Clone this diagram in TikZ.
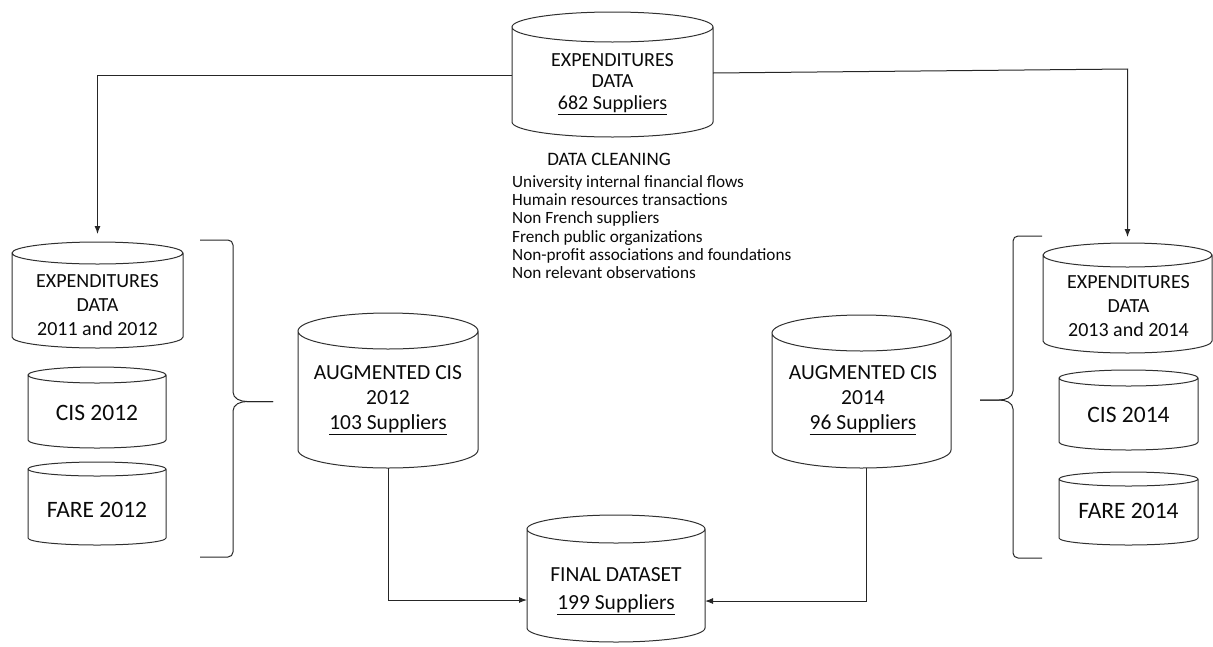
\documentclass[tikz,border=0pt]{standalone}
\usepackage{fontspec}
\setmainfont{Carlito}
\usetikzlibrary{arrows.meta}
\definecolor{outl}{HTML}{303030}
\definecolor{txtc}{HTML}{0A0A0A}
\newcommand\cylof[3]{%
  \draw[cylline] ([yshift=-#3pt]#1.north west) -- ([yshift=#3pt]#1.south west)
    arc[start angle=180,end angle=360,x radius=#2pt,y radius=#3pt]
    -- ([yshift=-#3pt]#1.north east)
    arc[start angle=0,end angle=180,x radius=#2pt,y radius=#3pt]
    arc[start angle=180,end angle=360,x radius=#2pt,y radius=#3pt];
}
\begin{document}
\begin{tikzpicture}[x=1pt,y=-1pt,
  box/.style={draw=none,inner sep=0pt,outer sep=0pt},
  cylline/.style={draw=outl,line width=1pt},
  conn/.style={draw=black!85,line width=1pt,-{Latex[length=8pt,width=6pt]}},
  bracel/.style={draw=black!85,line width=1pt},
  lbl/.style={text=txtc,align=center,inner sep=0pt},
  fa/.style={font=\fontsize{20}{21.7}\selectfont},
  fb/.style={font=\fontsize{20}{24}\selectfont},
  fc/.style={font=\fontsize{23.5}{26}\selectfont},
  fd/.style={font=\fontsize{21.5}{25}\selectfont},
  fe/.style={font=\fontsize{21.5}{28}\selectfont},
  fl/.style={font=\fontsize{17.2}{18.3}\selectfont},
  fk/.style={font=\fontsize{19}{20}\selectfont}]
\useasboundingbox (0,0) rectangle (1213,646);

% cylinder boxes
\node[box,minimum width=201pt,minimum height=125pt] (top) at (612.5,74.5) {};
\node[box,minimum width=171pt,minimum height=106pt] (e12) at (97.5,295) {};
\node[box,minimum width=138pt,minimum height=81pt] (c12) at (97,407.5) {};
\node[box,minimum width=138pt,minimum height=83pt] (f12) at (97,503.5) {};
\node[box,minimum width=180pt,minimum height=155pt] (a12) at (388,390.5) {};
\node[box,minimum width=178pt,minimum height=127pt] (final) at (616,578.5) {};
\node[box,minimum width=179pt,minimum height=153pt] (a14) at (861.5,391.5) {};
\node[box,minimum width=169pt,minimum height=110pt] (e34) at (1127.5,298) {};
\node[box,minimum width=139pt,minimum height=80pt] (c14) at (1128.5,410) {};
\node[box,minimum width=139pt,minimum height=73pt] (f14) at (1128.5,508.5) {};

\cylof{top}{100.5}{15}
\cylof{e12}{85.5}{11}
\cylof{c12}{69}{8}
\cylof{f12}{69}{7}
\cylof{a12}{90}{18}
\cylof{final}{89}{14}
\cylof{a14}{89.5}{18}
\cylof{e34}{84.5}{12}
\cylof{c14}{69.5}{8}
\cylof{f14}{69.5}{7}

% texts
\node[lbl,fa] (topt) at (612.5,84) {EXPENDITURES\\DATA\\\underline{682 Suppliers}};
\node[lbl,fb] (e12t) at (97.5,305) {EXPENDITURES\\DATA\\2011 and 2012};
\node[lbl,fc] (c12t) at (97,412.5) {CIS 2012};
\node[lbl,fc] (f12t) at (97,510) {FARE 2012};
\node[lbl,fd] (a12t) at (388,400) {AUGMENTED CIS\\2012\\\underline{103 Suppliers}};
\node[lbl,fe] (finalt) at (616,591) {FINAL DATASET\\\underline{199 Suppliers}};
\node[lbl,fd] (a14t) at (863,400) {AUGMENTED CIS\\2014\\\underline{96 Suppliers}};
\node[lbl,fb] (e34t) at (1128.5,306) {EXPENDITURES\\DATA\\2013 and 2014};
\node[lbl,fc] (c14t) at (1128.5,414.5) {CIS 2014};
\node[lbl,fc] (f14t) at (1128.5,511) {FARE 2014};

\node[lbl,fk] (dc) at (609,159) {DATA CLEANING};
\node[lbl,fl,align=left,anchor=west] (list) at (512,227) {University internal financial flows\\
Humain resources transactions\\
Non French suppliers\\
French public organizations\\
Non-profit associations and foundations\\
Non relevant observations};

% connectors
\coordinate (rc) at (e34.north |- 0,69);
\draw[conn,shorten >=8pt] (top.west |- 0,75) -| (e12.north);
\draw[conn,shorten >=6pt] (top.east |- 0,73) -- (rc) -- (e34.north);
\draw[conn] (a12.south) |- (final.west |- 0,600);
\draw[conn] ([xshift=4.5pt]a14.south) |- (final.east |- 0,601);

% braces
\draw[bracel] (200,240) -- (228,240) to[out=0,in=90] (233,245) -- (233,392)
  to[out=-90,in=180] (247,401.5) -- (273,401.5);
\draw[bracel] (273,401.5) -- (247,401.5) to[out=180,in=90] (233,411) -- (233,552)
  to[out=-90,in=0] (228,557) -- (200,557);
\draw[bracel] (1042,236) -- (1018,236) to[out=180,in=90] (1013,241) -- (1013,391)
  to[out=-90,in=0] (999,400) -- (980,400);
\draw[bracel] (980,400) -- (999,400) to[out=0,in=90] (1013,409) -- (1013,553)
  to[out=-90,in=180] (1018,558) -- (1042,558);
\end{tikzpicture}
\end{document}
